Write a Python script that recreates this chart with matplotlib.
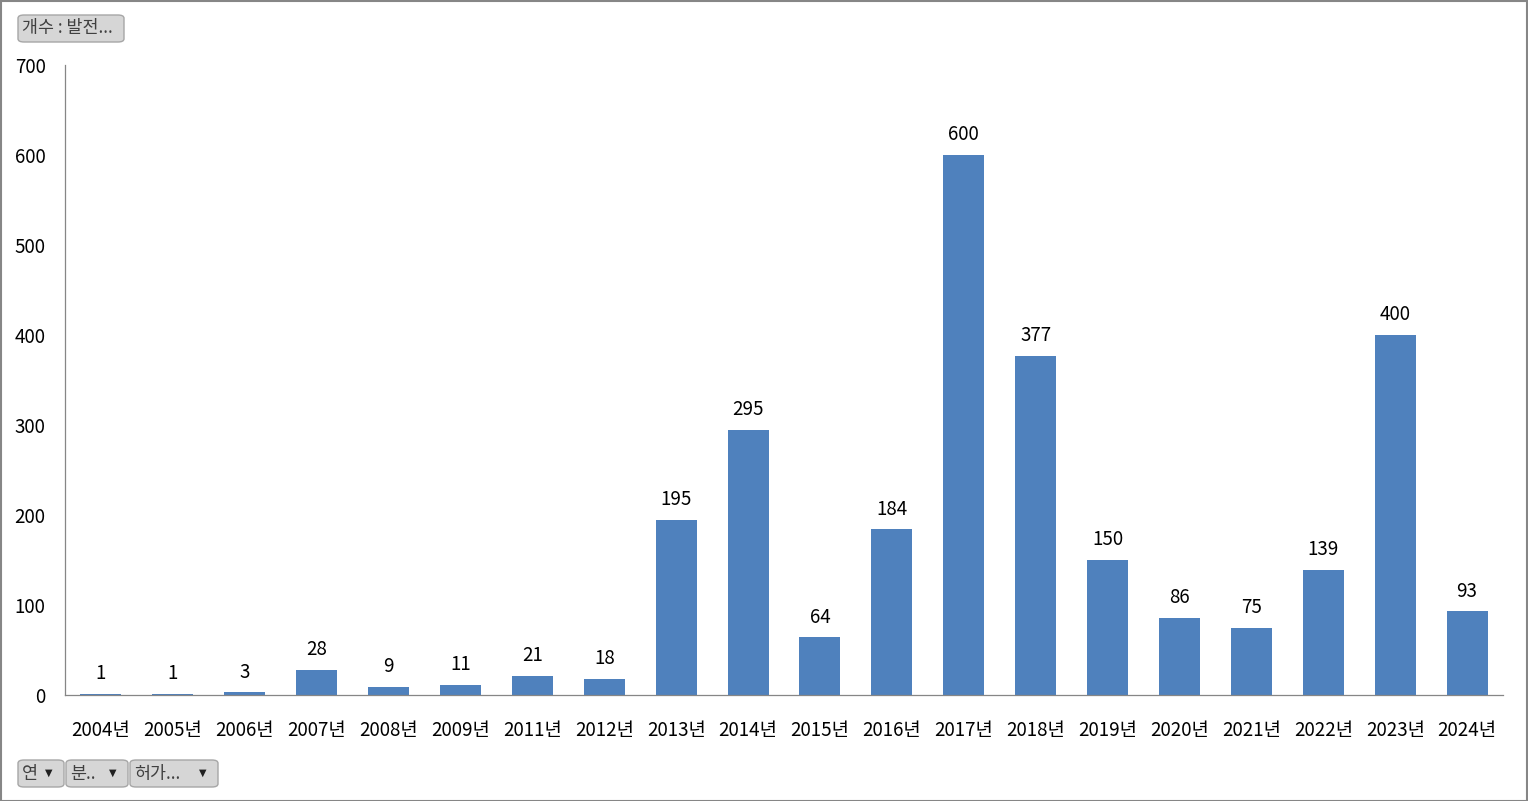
import matplotlib
matplotlib.use("Agg")
import matplotlib.pyplot as plt
from matplotlib.patches import FancyBboxPatch, Rectangle

plt.rcParams['font.family'] = ['Noto Sans CJK KR', 'DejaVu Sans']

years = ["2004년", "2005년", "2006년", "2007년", "2008년", "2009년", "2011년", "2012년",
         "2013년", "2014년", "2015년", "2016년", "2017년", "2018년", "2019년", "2020년",
         "2021년", "2022년", "2023년", "2024년"]
counts = [1, 1, 3, 28, 9, 11, 21, 18, 195, 295, 64, 184, 600, 377, 150, 86, 75, 139, 400, 93]
yticks = [0, 100, 200, 300, 400, 500, 600, 700]

W, H = 1528, 801
FS = 13.5
fig = plt.figure(figsize=(W / 100, H / 100), dpi=100)
fig.patch.set_facecolor('white')

ax = fig.add_axes([65 / W, 1 - 695 / H, (1503 - 65) / W, (695 - 65) / H])
x = list(range(len(years)))
bars = ax.bar(x, counts, width=0.57, color='#4F81BD')
ax.set_xlim(-0.5, len(years) - 0.5)
ax.set_ylim(0, 700)
ax.set_yticks(yticks)
ax.set_yticklabels([str(v) for v in yticks], fontsize=FS, color='#000000')
ax.set_xticks(x)
ax.set_xticklabels(years, fontsize=FS, color='#000000')
ax.tick_params(axis='both', length=0)
ax.tick_params(axis='y', pad=14)
ax.tick_params(axis='x', pad=18)
for s in ['top', 'right']:
    ax.spines[s].set_visible(False)
for s in ['left', 'bottom']:
    ax.spines[s].set_color('#868686')
    ax.spines[s].set_linewidth(0.9)

for xi, v in zip(x, counts):
    ax.annotate(str(v), (xi, v), xytext=(0, 7), textcoords='offset points',
                ha='center', va='bottom', fontsize=FS)

# outer border
fig.add_artist(Rectangle((0.5 / W, 0.5 / H), 1 - 1.5 / W, 1 - 1.5 / H, transform=fig.transFigure,
                         fill=False, edgecolor='#868686', linewidth=1.5))


def button(x0, y0, x1, y1, text, arrow=False):
    fig.add_artist(FancyBboxPatch((x0 / W, 1 - y1 / H), (x1 - x0) / W, (y1 - y0) / H,
                                  boxstyle="round,pad=0,rounding_size=0.004",
                                  transform=fig.transFigure, facecolor='#D6D6D6',
                                  edgecolor='#A6A6A6', linewidth=1))
    fig.text((x0 + 4) / W, 1 - ((y0 + y1) / 2) / H, text, fontsize=12.5, color='#404040',
             ha='left', va='center')
    if arrow:
        fig.text((x1 - 12) / W, 1 - ((y0 + y1) / 2 - 1) / H, '▼', fontsize=7, color='#202020',
                 ha='right', va='center', family='DejaVu Sans')


button(18, 15, 124, 42, '개수 : 발전...')
button(18, 760, 64, 787, '연', True)
button(66, 760, 128, 787, '분..', True)
button(130, 760, 218, 787, '허가...', True)

fig.savefig('out.png', dpi=100)
